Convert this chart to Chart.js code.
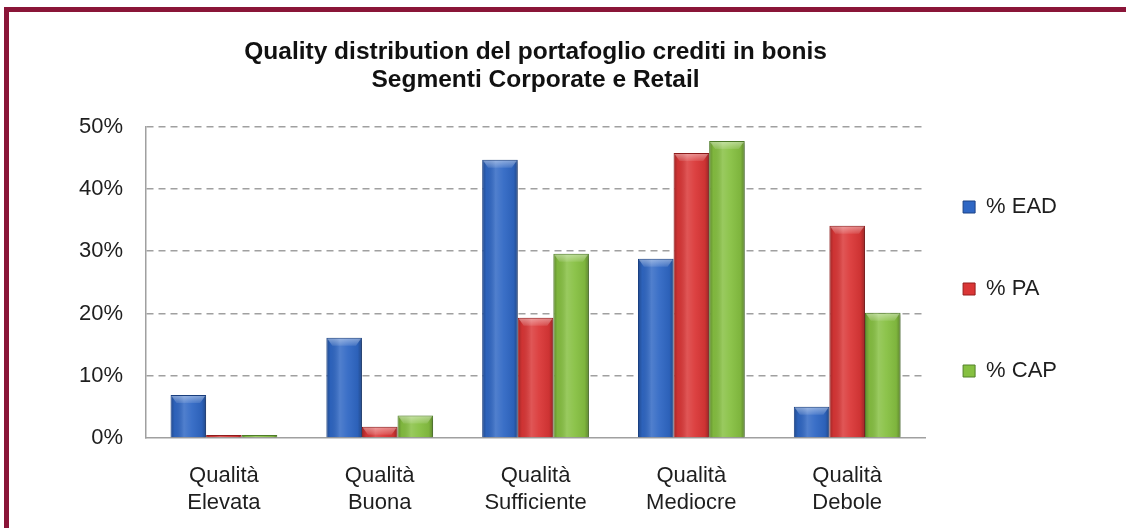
<!DOCTYPE html>
<html>
<head>
<meta charset="utf-8">
<script src="https://cdn.jsdelivr.net/npm/chart.js@4.4.1/dist/chart.umd.min.js"></script>
<style>
    html, body { margin: 0; padding: 0; background: #fff; overflow: hidden; }
    #frame {
        position: absolute; left: 4px; top: 7px; right: -20px; bottom: -20px;
        border-left: 5px solid #8a1538; border-top: 5px solid #8a1538;
        pointer-events: none;
    }
    #chart-box { position: absolute; left: 0; top: 0; width: 1126px; height: 528px; }
</style>
</head>
<body>
<div id="chart-box"><canvas id="qualityChart"></canvas></div>
<div id="frame"></div>
<script>
// Quality distribution del portafoglio crediti in bonis — Corporate e Retail

// ── Data ─────────────────────────────────────────────────────────────────
const categories = [
    ['Qualità', 'Elevata'],
    ['Qualità', 'Buona'],
    ['Qualità', 'Sufficiente'],
    ['Qualità', 'Mediocre'],
    ['Qualità', 'Debole']
];
const seriesNames = ['% EAD', '% PA', '% CAP'];
const eadValues = [6.9, 16.1, 44.7, 28.8, 5.0];
const paValues  = [0.5, 1.8, 19.3, 45.8, 34.1];
const capValues = [0.5, 3.6, 29.6, 47.7, 20.1];
const yTicks = [0, 10, 20, 30, 40, 50];

// fill / edge colors per series
const fills = ['#2f67c4', '#da3636', '#86c041'];
const edges = ['#1b4286', '#961d1d', '#52822a'];

Chart.defaults.font.family = '"Liberation Sans", Arial, Helvetica, sans-serif';
Chart.defaults.color = '#1e1e1e';

// ── Glossy "cylinder" look for the bars ──────────────────────────────────
const barShine = {
    id: 'barShine',
    beforeDatasetsDraw(chart) {
        const ctx = chart.ctx;
        ctx.save();
        ctx.shadowColor = 'rgba(0,0,0,0.30)';
        ctx.shadowBlur = 4;
        ctx.shadowOffsetX = 2;
        ctx.shadowOffsetY = 1;
    },
    afterDatasetsDraw(chart) {
        const ctx = chart.ctx;
        ctx.restore();
        chart.getSortedVisibleDatasetMetas().forEach(meta => {
            meta.data.forEach(bar => {
                const p = bar.getProps(['x', 'y', 'base', 'width'], true);
                const left = p.x - p.width / 2, right = p.x + p.width / 2;
                const top = Math.min(p.y, p.base), bottom = Math.max(p.y, p.base);
                const h = bottom - top;
                if (h < 0.5) return;
                ctx.save();
                const g = ctx.createLinearGradient(left, 0, right, 0);
                g.addColorStop(0, 'rgba(0,0,0,0.28)');
                g.addColorStop(0.12, 'rgba(0,0,0,0.05)');
                g.addColorStop(0.38, 'rgba(255,255,255,0.16)');
                g.addColorStop(0.6, 'rgba(255,255,255,0.06)');
                g.addColorStop(0.88, 'rgba(0,0,0,0.06)');
                g.addColorStop(1, 'rgba(0,0,0,0.30)');
                ctx.fillStyle = g;
                ctx.fillRect(left + 1, top + 1, right - left - 2, h - 1);
                // bevelled top cap
                const bh = Math.min(8, h - 1);
                if (bh > 1) {
                    const v = ctx.createLinearGradient(0, top, 0, top + bh);
                    v.addColorStop(0, 'rgba(255,255,255,0.45)');
                    v.addColorStop(1, 'rgba(255,255,255,0.10)');
                    ctx.fillStyle = v;
                    ctx.beginPath();
                    ctx.moveTo(left + 1, top + 1);
                    ctx.lineTo(right - 1, top + 1);
                    ctx.lineTo(right - 6, top + bh);
                    ctx.lineTo(left + 6, top + bh);
                    ctx.closePath();
                    ctx.fill();
                }
                ctx.restore();
            });
        });
    }
};

function makeSet(i, values) {
    return {
        label: seriesNames[i],
        data: values,
        backgroundColor: fills[i],
        borderColor: edges[i],
        borderWidth: 1,
        borderSkipped: 'bottom',
        barPercentage: 1.0,
        categoryPercentage: 0.685
    };
}

new Chart(document.getElementById('qualityChart'), {
    type: 'bar',
    data: {
        labels: categories,
        datasets: [makeSet(0, eadValues), makeSet(1, paValues), makeSet(2, capValues)]
    },
    plugins: [barShine],
    options: {
        responsive: true,
        maintainAspectRatio: false,
        animation: false,
        layout: { padding: { left: 20, right: 59, top: 0, bottom: 0 } },
        plugins: {
            title: {
                display: true,
                fullSize: false,
                text: ['Quality distribution del portafoglio crediti in bonis', 'Segmenti Corporate e Retail'],
                font: { size: 24.5, weight: 'bold', lineHeight: 1.17 },
                color: '#111',
                padding: { top: 37.6, bottom: 31.8 }
            },
            legend: {
                position: 'right',
                fullSize: true,
                align: 'center',
                title: { display: true, text: '', font: { size: 10, lineHeight: 1 }, padding: { top: 62, bottom: 0 } },
                labels: {
                    boxWidth: 12,
                    boxHeight: 12,
                    padding: 38,
                    color: '#1e1e1e',
                    font: { size: 22, lineHeight: 2 },
                    generateLabels(chart) {
                        return chart.data.datasets.map((ds, i) => ({
                            text: [seriesNames[i]],
                            fillStyle: fills[i],
                            strokeStyle: edges[i],
                            lineWidth: 1,
                            hidden: false,
                            datasetIndex: i
                        }));
                    }
                }
            },
            tooltip: { enabled: false }
        },
        scales: {
            x: {
                grid: { display: false, drawTicks: false },
                border: { display: true, color: '#a0a0a0', width: 1.5 },
                ticks: { font: { size: 22, lineHeight: 1.22 }, color: '#1e1e1e', padding: 24.8, maxRotation: 0 },
                afterFit(scale) { scale.height = 90; }
            },
            y: {
                min: 0,
                max: 50,
                afterBuildTicks(scale) { scale.ticks = yTicks.map(v => ({ value: v })); },
                grid: {
                    drawTicks: false,
                    color: c => (c.tick && c.tick.value === 0) ? 'rgba(0,0,0,0)' : '#a0a0a0',
                    lineWidth: 1.5
                },
                border: { display: true, color: '#a0a0a0', width: 1.5, dash: [7, 5] },
                ticks: {
                    font: { size: 22 },
                    color: '#1e1e1e',
                    padding: 23,
                    callback: v => v + '%'
                },
                afterFit(scale) { scale.width = 126; }
            }
        }
    }
});
</script>
</body>
</html>
